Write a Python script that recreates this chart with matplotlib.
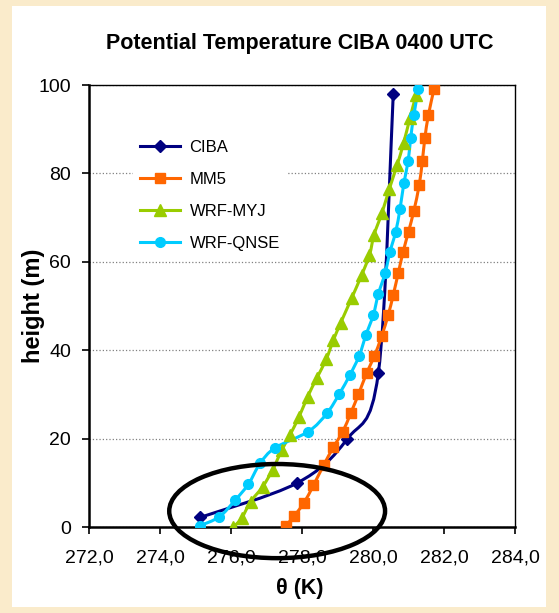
import numpy as np
import matplotlib.pyplot as plt
from matplotlib.path import Path
from matplotlib.patches import PathPatch, Ellipse, Rectangle
from matplotlib.lines import Line2D
from matplotlib.ticker import FuncFormatter

plt.rcParams['font.family'] = ['Liberation Sans', 'DejaVu Sans']

# data
ciba_t = [275.14, 277.85, 279.26, 280.15, 280.57]
ciba_h = [2.2, 9.9, 19.8, 34.8, 97.9]

mm5_t = [277.54, 277.78, 278.05, 278.32, 278.61, 278.88, 279.15, 279.37, 279.59, 279.82,
         280.04, 280.24, 280.43, 280.57, 280.71, 280.85, 281.00, 281.15, 281.30, 281.39,
         281.46, 281.56, 281.72]
mm5_h = [0.2, 2.5, 5.4, 9.4, 14.0, 18.0, 21.6, 25.7, 30.0, 34.8,
         38.7, 43.1, 48.0, 52.5, 57.4, 62.3, 66.8, 71.5, 77.3, 82.8,
         87.9, 93.2, 99.1]

myj_t = [276.07, 276.30, 276.55, 276.89, 277.17, 277.43, 277.66, 277.92, 278.16, 278.41,
         278.68, 278.88, 279.09, 279.40, 279.68, 279.90, 280.03, 280.25, 280.46, 280.68,
         280.86, 281.04, 281.21]
myj_h = [0.0, 2.0, 5.7, 9.1, 12.9, 17.4, 20.8, 25.0, 29.5, 33.6,
         37.9, 42.2, 46.2, 51.8, 57.0, 61.5, 66.1, 71.0, 76.5, 81.9,
         86.8, 92.5, 97.7]

qnse_t = [275.13, 275.67, 276.11, 276.49, 276.82, 277.24, 278.18, 278.70, 279.05, 279.35,
          279.61, 279.80, 280.01, 280.15, 280.34, 280.48, 280.64, 280.76, 280.87, 280.99,
          281.06, 281.15, 281.28]
qnse_h = [0.3, 2.3, 6.0, 9.7, 14.4, 17.9, 21.6, 25.7, 30.1, 34.4,
          38.7, 43.4, 48.0, 52.7, 57.4, 62.3, 66.8, 71.9, 77.8, 82.8,
          87.9, 93.2, 99.1]

names = ['CIBA', 'MM5', 'WRF-MYJ', 'WRF-QNSE']
colors = ['#000080', '#FF6600', '#99CC00', '#00CCFF']
markers = ['D', 's', '^', 'o']
msizes = [6, 7, 8, 7]

xticks = [272, 274, 276, 278, 280, 282, 284]
yticks = [0, 20, 40, 60, 80, 100]


def smooth_path(x, y):
    # excel style smoothed line (catmull-rom -> bezier)
    p = np.column_stack([x, y])
    n = len(p)
    verts = [p[0]]
    codes = [Path.MOVETO]
    for i in range(n - 1):
        p0 = p[max(i - 1, 0)]
        p1 = p[i]
        p2 = p[i + 1]
        p3 = p[min(i + 2, n - 1)]
        verts += [p1 + (p2 - p0) / 6.0, p2 - (p3 - p1) / 6.0, p2]
        codes += [Path.CURVE4] * 3
    return Path(verts, codes)


fig = plt.figure(figsize=(5.59, 6.13), dpi=100)
fig.patch.set_facecolor('#FAEBCB')
fig.patches.append(Rectangle((12 / 559, 6 / 613), 534 / 559, 601 / 613,
                             transform=fig.transFigure, facecolor='white',
                             edgecolor='none', zorder=-5))

ax = fig.add_axes([89 / 559, 1 - 527 / 613, 426 / 559, 442 / 613])
ax.set_xlim(272, 284)
ax.set_ylim(0, 100)

series = [(ciba_t, ciba_h), (mm5_t, mm5_h), (myj_t, myj_h), (qnse_t, qnse_h)]
handles = []
for (t, h), name, c, m, ms in zip(series, names, colors, markers, msizes):
    ax.add_patch(PathPatch(smooth_path(t, h), facecolor='none', edgecolor=c,
                           lw=2.2, zorder=3))
    ax.plot(t, h, linestyle='none', marker=m, ms=ms, color=c, zorder=4)
    handles.append(Line2D([], [], color=c, lw=2.2, marker=m, ms=ms, label=name))

ax.set_xticks(xticks)
ax.set_yticks(yticks)
ax.xaxis.set_major_formatter(FuncFormatter(lambda v, p: ('%.1f' % v).replace('.', ',')))
ax.tick_params(labelsize=14, direction='out', length=5, width=1.2)
ax.tick_params(axis='x', pad=11.5)
ax.tick_params(axis='y', pad=8)
ax.yaxis.grid(True, linestyle=':', color='#808080', lw=0.9)
ax.set_axisbelow(True)
for s in ['left', 'bottom']:
    ax.spines[s].set_linewidth(1.8)
for s in ['top', 'right']:
    ax.spines[s].set_linewidth(1.0)

ax.set_xlabel('\u03b8 (K)', fontsize=15.5, fontweight='bold', va='center')
ax.xaxis.set_label_coords(0.495, -0.140)
ax.set_ylabel('height (m)', fontsize=17, fontweight='bold', va='center')
ax.yaxis.set_label_coords(-0.131, 0.5)
fig.text(300 / 559, 1 - 43 / 613, 'Potential Temperature CIBA 0400 UTC',
         ha='center', va='center', fontsize=15.5, fontweight='bold')

leg = ax.legend(handles=handles, loc='upper left', bbox_to_anchor=(0.103, 0.89),
                borderaxespad=0, fontsize=12, frameon=True, fancybox=False,
                edgecolor='none', facecolor='white', framealpha=1,
                handlelength=2.4, handletextpad=0.6, labelspacing=1.02,
                borderpad=0.4)

ax.add_patch(Ellipse((277.3, 3.6), 6.08, 21.3, fill=False, edgecolor='black',
                     lw=3.2, clip_on=False, zorder=6))

fig.savefig('out.png', dpi=100, facecolor=fig.get_facecolor())
